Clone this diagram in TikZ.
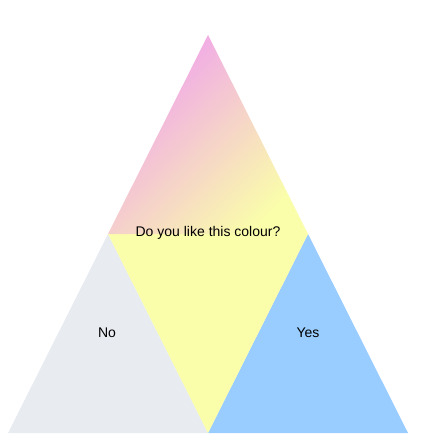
\documentclass[tikz,border=0pt]{standalone}
\usepackage{fontspec}
\setmainfont{Liberation Sans}
\definecolor{askpink}{RGB}{240,160,238}
\definecolor{askyellow}{RGB}{250,254,170}
\definecolor{yesblue}{RGB}{153,204,255}
\definecolor{nogrey}{RGB}{232,236,241}

\begin{document}
\begin{tikzpicture}[
    x=1pt, y=-1pt,
    label/.style={font=\fontsize{14}{16}\selectfont, inner sep=0pt},
  ]
    \useasboundingbox (0,0) rectangle (429,443);
    \coordinate (apex) at (208,35);
    \coordinate (midl) at (108,234);
    \coordinate (midr) at (308,234);
    \coordinate (botl) at (8,433);
    \coordinate (botm) at (208,433);
    \coordinate (botr) at (408,433);

    \fill[nogrey] (midl) -- (botm) -- (botl) -- cycle;
    \fill[yesblue] (midr) -- (botr) -- (botm) -- cycle;
    \fill[askyellow] (midl) -- (midr) -- (botm) -- cycle;
    \shade[top color=askpink, bottom color=askyellow, shading angle=45] (apex) -- (midr) -- (midl) -- cycle;

    \node[label] (ask) at (208,233) {Do you like this colour?};
    \node[label] (no) at (107,333) {No};
    \node[label] (yes) at (308,333) {Yes};
  \end{tikzpicture}
\end{document}
